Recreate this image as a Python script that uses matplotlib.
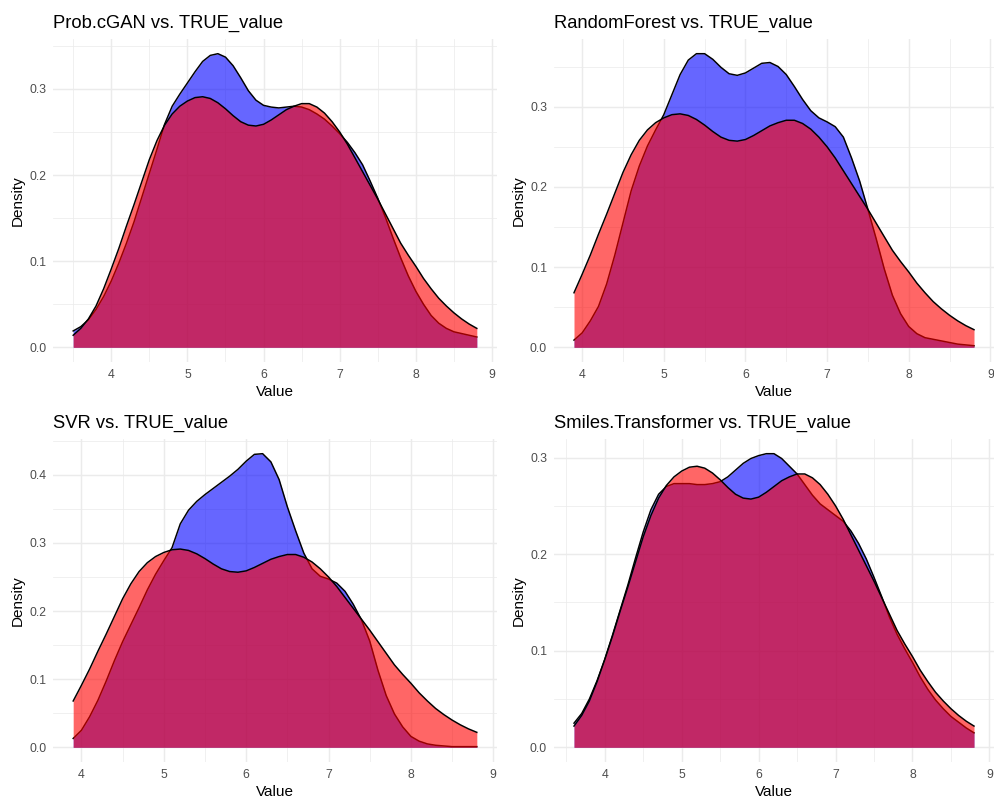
import numpy as np
import matplotlib

matplotlib.use("Agg")
import matplotlib.pyplot as plt  # noqa: E402
from matplotlib.ticker import MultipleLocator, FormatStrFormatter  # noqa: E402

plt.rcParams['font.family'] = ['Liberation Sans', 'DejaVu Sans']

step = 0.1
true_start = 3.5

# TRUE_value density, 3.5 .. 8.8
true_density = [
    0.014, 0.022, 0.033, 0.048, 0.068,
    0.091, 0.115, 0.141, 0.166, 0.192, 0.218, 0.240, 0.258, 0.271, 0.280,
    0.286, 0.290, 0.291, 0.289, 0.284, 0.277, 0.269, 0.262, 0.258, 0.257,
    0.259, 0.264, 0.270, 0.276, 0.280, 0.283, 0.283, 0.279, 0.272, 0.262,
    0.250, 0.236, 0.220, 0.204, 0.188, 0.172, 0.155, 0.138, 0.121, 0.107,
    0.094, 0.080, 0.068, 0.057, 0.048, 0.040, 0.033, 0.027, 0.022,
]

# Prob.cGAN, 3.5 .. 8.8
cgan_density = [
    0.019, 0.024, 0.032, 0.044, 0.059,
    0.077, 0.098, 0.121, 0.146, 0.174, 0.202, 0.230, 0.259, 0.280, 0.294,
    0.307, 0.320, 0.332, 0.339, 0.341, 0.337, 0.327, 0.313, 0.298, 0.287,
    0.281, 0.279, 0.278, 0.279, 0.280, 0.279, 0.276, 0.271, 0.265, 0.257,
    0.248, 0.238, 0.226, 0.212, 0.193, 0.173, 0.151, 0.127, 0.104, 0.083,
    0.065, 0.050, 0.037, 0.028, 0.022, 0.018, 0.016, 0.014, 0.012,
]

# RandomForest, 3.9 .. 8.8
rf_density = [
    0.009,
    0.018, 0.033, 0.051, 0.079, 0.115, 0.155, 0.195, 0.226, 0.251, 0.271,
    0.290, 0.315, 0.340, 0.358, 0.366, 0.366, 0.359, 0.349, 0.341, 0.339,
    0.342, 0.348, 0.354, 0.355, 0.350, 0.340, 0.325, 0.309, 0.295, 0.286,
    0.281, 0.275, 0.262, 0.236, 0.207, 0.172, 0.136, 0.098, 0.065, 0.042,
    0.026, 0.017, 0.012, 0.010, 0.008, 0.006, 0.004, 0.003, 0.002,
]

# SVR, 3.9 .. 8.8
svr_density = [
    0.013,
    0.025, 0.045, 0.069, 0.097, 0.127, 0.155, 0.180, 0.205, 0.231, 0.254,
    0.274, 0.293, 0.328, 0.348, 0.361, 0.371, 0.380, 0.389, 0.398, 0.408,
    0.420, 0.430, 0.431, 0.419, 0.393, 0.353, 0.318, 0.285, 0.262, 0.251,
    0.247, 0.241, 0.229, 0.210, 0.187, 0.156, 0.113, 0.076, 0.049, 0.030,
    0.016, 0.009, 0.005, 0.003, 0.002, 0.001, 0.001, 0.001, 0.001,
]

# Smiles.Transformer, 3.6 .. 8.8
smiles_density = [
    0.025, 0.035, 0.050, 0.069,
    0.091, 0.116, 0.142, 0.168, 0.196, 0.223, 0.246, 0.262, 0.270, 0.273,
    0.273, 0.273, 0.272, 0.272, 0.273, 0.275, 0.280, 0.287, 0.294, 0.299,
    0.302, 0.304, 0.304, 0.299, 0.291, 0.283, 0.272, 0.261, 0.252, 0.246,
    0.240, 0.234, 0.224, 0.211, 0.195, 0.176, 0.156, 0.135, 0.117, 0.102,
    0.088, 0.073, 0.060, 0.049, 0.040, 0.032, 0.026, 0.020, 0.015,
]

model_names = ["Prob.cGAN", "RandomForest", "SVR", "Smiles.Transformer"]
model_starts = [3.5, 3.9, 3.9, 3.6]
model_density = [cgan_density, rf_density, svr_density, smiles_density]

# panel boxes in pixels: left, top, right, bottom
W, H = 994, 797
boxes = [(53, 39, 497, 362), (554, 39, 994, 362),
         (53, 439, 497, 762), (554, 439, 994, 762)]

grid_col = "#EBEBEB"
text_col = "#4D4D4D"
lw = 1.07

fig = plt.figure(figsize=(W / 100, H / 100), dpi=100)

for name, start, dens, box in zip(model_names, model_starts, model_density, boxes):
    l, t, r, b = box
    ax = fig.add_axes([l / W, 1 - b / H, (r - l) / W, (b - t) / H])

    pred = np.array(dens)
    x = np.round(start + step * np.arange(len(pred)), 2)
    off = int(round((start - true_start) / step))
    true = np.array(true_density[off:off + len(pred)])

    # predicted first, then TRUE_value on top (as in the original layering)
    ax.fill_between(x, 0, pred, color="blue", alpha=0.6, linewidth=0, zorder=2)
    ax.plot(x, pred, color="black", lw=lw, zorder=2)
    ax.fill_between(x, 0, true, color="red", alpha=0.6, linewidth=0, zorder=2)
    ax.plot(x, true, color="black", lw=lw, zorder=2)

    xr = x.max() - x.min()
    ax.set_xlim(x.min() - 0.05 * xr, x.max() + 0.05 * xr)
    ymax = max(pred.max(), true.max())
    ax.set_ylim(-0.05 * ymax, 1.05 * ymax)

    ax.xaxis.set_major_locator(MultipleLocator(1))
    ax.xaxis.set_minor_locator(MultipleLocator(0.5))
    ax.yaxis.set_major_locator(MultipleLocator(0.1))
    ax.yaxis.set_minor_locator(MultipleLocator(0.05))
    ax.xaxis.set_major_formatter(FormatStrFormatter('%d'))
    ax.yaxis.set_major_formatter(FormatStrFormatter('%.1f'))

    ax.grid(True, which="major", color=grid_col, lw=lw, zorder=0)
    ax.grid(True, which="minor", color=grid_col, lw=lw / 2, zorder=0)
    ax.set_axisbelow(True)
    for s in ax.spines.values():
        s.set_visible(False)
    ax.tick_params(which="both", length=0, pad=4.95, labelsize=8.8, labelcolor=text_col)

    ax.set_title(f"{name} vs. TRUE_value", loc="left", fontsize=13.2, pad=8)
    ax.set_xlabel("Value", fontsize=11, labelpad=2.75)
    ax.set_ylabel("Density", fontsize=11, labelpad=2.75)

fig.savefig("out.png", dpi=100, facecolor="white")
